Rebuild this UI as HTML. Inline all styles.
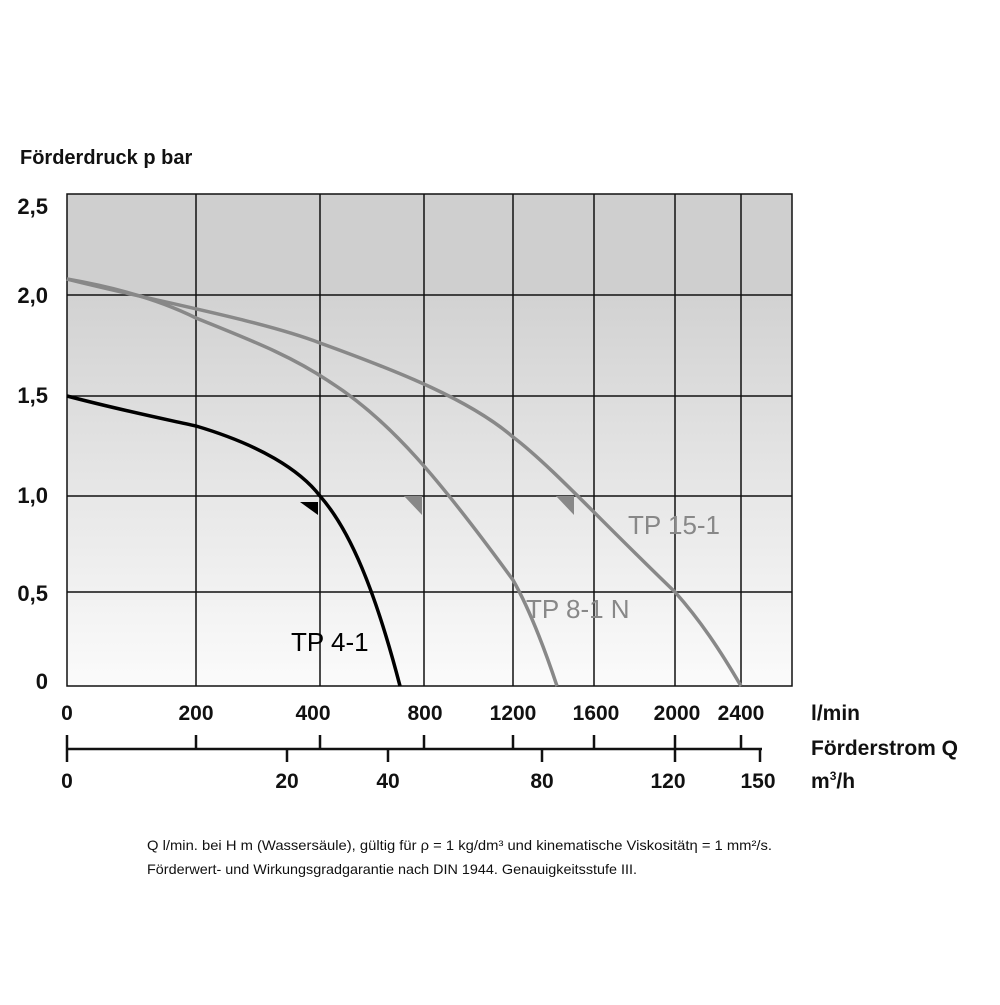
<!DOCTYPE html>
<html><head><meta charset="utf-8"><style>
body{margin:0;background:#fff}
svg text{font-family:"Liberation Sans Narrow","Liberation Sans",sans-serif;font-weight:bold;fill:#111}
</style></head><body>
<svg width="1000" height="1000" viewBox="0 0 1000 1000" xmlns="http://www.w3.org/2000/svg">
<defs>
<linearGradient id="g" x1="0" y1="0" x2="0" y2="1">
<stop offset="0" stop-color="#d2d2d2"/><stop offset="1" stop-color="#fbfbfb"/>
</linearGradient>
</defs>
<rect x="67" y="194" width="725" height="101" fill="#cfcfcf"/>
<rect x="67" y="295" width="725" height="391" fill="url(#g)"/>
<g stroke="#111" stroke-width="1.5" fill="none">
<rect x="67" y="194" width="725" height="492"/>
<path d="M67 295H792M67 396H792M67 496H792M67 592H792"/>
<path d="M196 194V686M320 194V686M424 194V686M513 194V686M594 194V686M675 194V686M741 194V686"/>
</g>
<g fill="none" stroke-width="3.5">
<path d="M67 279 C150 300,260 320,320 343 C400 372,470 400,513 437 C550 465,600 520,675 592 C700 620,720 650,741 686" stroke="#888"/>
<path d="M67 279 C130 290,170 305,196 318 C250 340,290 355,330 382 C390 420,440 480,513 580 C530 610,545 650,557 686" stroke="#888"/>
<path d="M67 396 C120 410,160 418,196 426 C260 445,300 470,320 496 C350 530,375 590,400 686" stroke="#000"/>
</g>
<polygon points="300,502 318,502 318,515" fill="#000"/>
<polygon points="404,496 422,496 422,515" fill="#888"/>
<polygon points="556,496 574,496 574,515" fill="#888"/>
<g font-size="26" style="font-family:'Liberation Sans',sans-serif;font-weight:normal">
<text x="291" y="651" style="fill:#000;font-weight:normal">TP 4-1</text>
<text x="526" y="618" style="fill:#888;font-weight:normal">TP 8-1 N</text>
<text x="628" y="534" style="fill:#888;font-weight:normal">TP 15-1</text>
</g>
<text x="20" y="164" font-size="20">Förderdruck p bar</text>
<g font-size="22" text-anchor="end">
<text x="48" y="214">2,5</text><text x="48" y="303">2,0</text><text x="48" y="403">1,5</text>
<text x="48" y="503">1,0</text><text x="48" y="601">0,5</text><text x="48" y="689">0</text>
</g>
<g font-size="21" text-anchor="middle">
<text x="67" y="720">0</text><text x="196" y="720">200</text><text x="313" y="720">400</text>
<text x="425" y="720">800</text><text x="513" y="720">1200</text><text x="596" y="720">1600</text>
<text x="677" y="720">2000</text><text x="741" y="720">2400</text>
<text x="67" y="788">0</text><text x="287" y="788">20</text><text x="388" y="788">40</text>
<text x="542" y="788">80</text><text x="668" y="788">120</text><text x="758" y="788">150</text>
</g>
<text x="811" y="720" font-size="21">l/min</text>
<text x="811" y="755" font-size="21">Förderstrom Q</text>
<text x="811" y="788" font-size="21">m<tspan font-size="12" dy="-8">3</tspan><tspan dy="8">/h</tspan></text>
<g stroke="#111" stroke-width="2.5">
<path d="M67 749H762"/>
<path d="M67 735V762M196 735V749M320 735V749M424 735V749M513 735V749M594 735V749M675 735V762M741 735V749"/>
<path d="M287 749V762M388 749V762M542 749V762M760 749V762"/>
</g>
<g font-size="14" style="font-weight:normal">
<text x="147" y="850" style="font-weight:normal" textLength="625" lengthAdjust="spacingAndGlyphs">Q l/min. bei H m (Wassersäule), gültig für ρ = 1 kg/dm³ und kinematische Viskositätη = 1 mm²/s.</text>
<text x="147" y="874" style="font-weight:normal" textLength="490" lengthAdjust="spacingAndGlyphs">Förderwert- und Wirkungsgradgarantie nach DIN 1944. Genauigkeitsstufe III.</text>
</g>
</svg>
</body></html>
